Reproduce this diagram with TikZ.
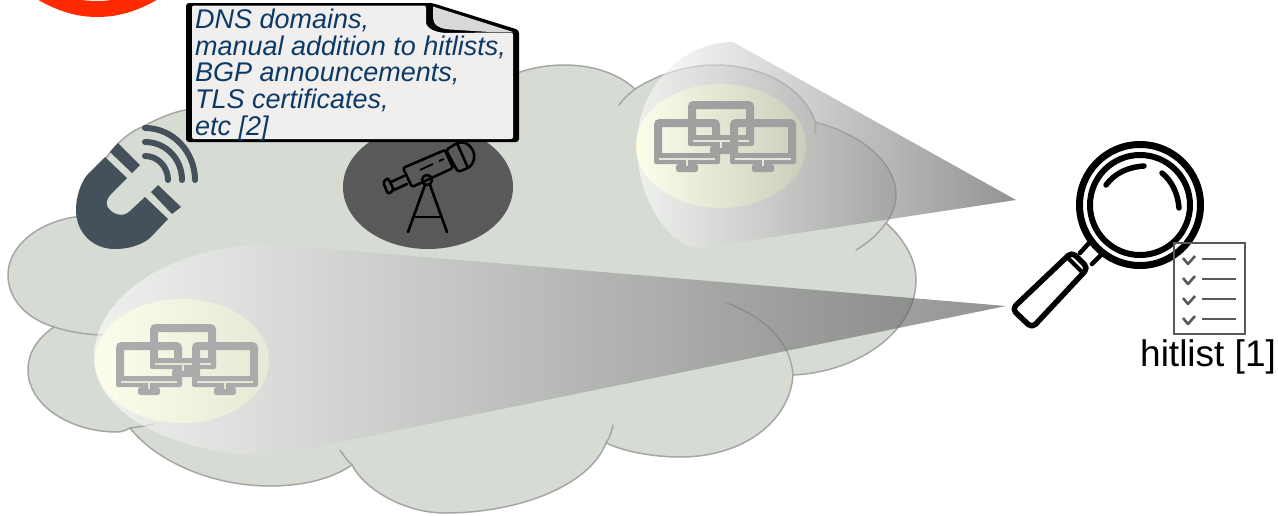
\documentclass[tikz,border=0pt]{standalone}
\usepackage{fontspec}
\setmainfont{Liberation Sans}
\definecolor{cloudfill}{HTML}{D6DBD4}
\definecolor{cloudline}{HTML}{A6A6A4}
\definecolor{glow}{HTML}{FBFBCC}
\definecolor{screena}{HTML}{ABABAB}
\definecolor{screenb}{HTML}{A0A0A0}
\definecolor{stripe}{HTML}{E6E6D8}
\definecolor{magnetc}{HTML}{44505A}
\definecolor{scope}{HTML}{595959}
\definecolor{paper}{HTML}{F1EEEE}
\definecolor{foldc}{HTML}{D9D9D9}
\definecolor{doctext}{HTML}{0B3A66}
\definecolor{redc}{HTML}{FF2A00}
\definecolor{listc}{HTML}{595959}
\definecolor{conedark}{HTML}{505050}
\tikzset{
  lobe/.style={draw=cloudline,line width=1.5pt,line cap=round},
  cone/.style={left color=white,right color=conedark,opacity=0.62},
  halo/.style={fill=glow},
  scopeline/.style={draw=black,line width=2.6pt,line cap=round,line join=round},
  lensline/.style={draw=black,line width=5.5pt,line cap=round,line join=round},
  wave/.style={draw=magnetc,line width=6pt,line cap=round},
  tick/.style={draw=listc,line width=2.6pt,line join=round},
  monitor/.pic={
    \fill[pic actions,rounded corners=2pt] (0,34) rectangle (66,45);
    \draw[pic actions,line width=8pt,rounded corners=2pt] (4,4) rectangle (62,40);
    \fill[pic actions,rounded corners=2.5pt] (22,45) rectangle (44,53);
    \draw[stripe,line width=1.2pt] (5,40) -- (61,40);
    \draw[stripe,line width=2.6pt] (33,40) -- (33,47);
  }
}
\begin{document}
\begin{tikzpicture}[x=1pt,y=-1pt]
\useasboundingbox (0,0) rectangle (1278,515);
\clip (0,0) rectangle (1278,515);
% red ring, cut by the page edge
\fill[redc] (35,-2) .. controls (55,10) and (75,17) .. (97,17) .. controls (120,17) and (140,10) .. (160,-2) -- (118,-2) .. controls (110,2) and (85,2) .. (73,-2) -- cycle;
% cloud
\path[fill=cloudfill,lobe] (54,327) .. controls (25,318) and (8,298) .. (8,275)
  .. controls (8,245) and (40,222) .. (75,217)
  -- (88,215) .. controls (85,185) and (110,140) .. (142,127)
  .. controls (155,120) and (170,113) .. (185,110)
  .. controls (280,90) and (400,80) .. (520,72)
  .. controls (535,67) and (550,65) .. (565,65)
  .. controls (595,65) and (620,75) .. (635,89)
  .. controls (660,73) and (690,65) .. (715,65)
  .. controls (765,65) and (805,90) .. (815,122)
  .. controls (865,135) and (896,165) .. (896,195)
  .. controls (896,205) and (892,215) .. (886,223)
  .. controls (905,240) and (916,260) .. (916,280)
  .. controls (916,330) and (860,372) .. (793,375)
  .. controls (790,420) and (745,457) .. (680,457)
  .. controls (655,457) and (625,452) .. (606,443)
  .. controls (590,485) and (520,513) .. (445,513)
  .. controls (405,513) and (365,490) .. (352,465)
  .. controls (330,480) and (300,486) .. (270,486)
  .. controls (210,486) and (155,460) .. (130,428)
  .. controls (125,431) and (120,432) .. (117,432)
  .. controls (70,432) and (28,405) .. (28,370)
  .. controls (28,352) and (38,338) .. (54,327) -- cycle;
\draw[lobe] (54,327) .. controls (70,332) and (88,335) .. (106,335);
\draw[lobe] (130,428) .. controls (138,427) and (146,426) .. (154,424);
\draw[lobe] (352,465) .. controls (347,460) and (343,455) .. (340,450);
\draw[lobe] (606,443) .. controls (610,437) and (612,431) .. (613,425);
\draw[lobe] (793,375) .. controls (790,340) and (765,318) .. (725,302);
\draw[lobe] (886,223) .. controls (877,235) and (868,243) .. (856,250);
\draw[lobe] (815,122) .. controls (816,126) and (816,130) .. (815,133);
\draw[lobe] (619,105) .. controls (623,99) and (629,94) .. (635,89);
% halos
\fill[halo] (182,361) circle [x radius=87pt,y radius=62pt];
\fill[halo] (721,146) circle [x radius=85pt,y radius=62pt];
% view cones
\path[cone] (1006,306) -- (270,244) .. controls (165,246) and (94,300) .. (94,357)
  .. controls (94,420) and (190,458) .. (277,455) -- cycle;
\path[cone] (1016,200) -- (733,42) .. controls (680,42) and (637,90) .. (637,145)
  .. controls (637,200) and (670,248) .. (700,248) -- cycle;
% hosts
\pic[screena] at (116,342) {monitor};
\pic[screena] at (150,324) {monitor};
\pic[screena] at (192,342) {monitor};
\pic[screenb] at (654,119) {monitor};
\pic[screenb] at (688,101) {monitor};
\pic[screenb] at (730,119) {monitor};
% magnet
\fill[magnetc] (105,157) -- (127,178) -- (113,192) .. controls (104,201) and (106,206) .. (110,210)
  .. controls (114,214) and (123,218) .. (130,211) -- (145,197) -- (168,219) -- (150,238)
  .. controls (140,246) and (127,249) .. (115,249) .. controls (92,249) and (76,232) .. (76,210)
  .. controls (76,198) and (80,184) .. (87,175) -- cycle;
\fill[magnetc] (118,143) -- (140,165) -- (132,173) -- (110,152) -- cycle;
\fill[magnetc] (158,185) -- (181,207) -- (172,214) -- (151,192) -- cycle;
\draw[wave] (145,156) .. controls (158,156) and (168,167) .. (168,180);
\draw[wave] (145,142) .. controls (166,142) and (182,159) .. (182,180);
\draw[wave] (145,128) .. controls (173,128) and (195,152) .. (195,180);
% telescope
\fill[scope] (428,187) circle [x radius=85pt,y radius=62pt];
\draw[scopeline,rounded corners=2pt] (403,168) -- (445,150) -- (453,168) -- (412,187) -- cycle;
\draw[scopeline,rounded corners=2pt] (446,150) -- (457,143) -- (468,168) -- (458,172) -- cycle;
\draw[scopeline] (457,143) .. controls (470,138) and (482,158) .. (468,168);
\draw[scopeline] (404,176) -- (391,182);
\draw[scopeline] (407,184) -- (394,190);
\draw[scopeline,rounded corners=2pt] (383,182) -- (388,178) -- (394,190) -- (388,194) -- cycle;
\draw[scopeline] (427,180) circle [radius=5pt];
\fill[black] (427,180) circle [radius=1.5pt];
\draw[scopeline] (425,185) -- (408,232);
\draw[scopeline] (430,185) -- (447,232);
\draw[scopeline] (414,217) -- (441,217);
\draw[draw=black,line width=1.8pt] (420,170) -- (433,164);
\draw[draw=black,line width=1.8pt] (439,161) -- (444,159);
% document
\fill[black,rounded corners=3pt] (186,3) -- (432,3) -- (519,30) -- (519,142) -- (186,142) -- cycle;
\fill[paper,rounded corners=2pt] (192,5.5) -- (426,5.5) -- (426,20) .. controls (426,28) and (435,33) .. (450,33) -- (490,32.6) -- (513,32.6) -- (513,139) -- (192,139) -- cycle;
\fill[foldc] (433,6.5) -- (433,18) .. controls (433,25) and (440,29) .. (450,29.5) -- (490,32) -- (513,32) -- cycle;
\node[anchor=north west,inner sep=0pt,align=left,text=doctext,font=\fontsize{27}{26.6}\selectfont\itshape] (doc) at (195,9) {DNS domains,\\manual addition to hitlists,\\BGP announcements,\\TLS certificates,\\etc [2]};
% magnifier
\draw[black,line width=7pt] (1140,205) circle [radius=60.5pt];
\draw[black,line width=6pt] (1140,205) circle [radius=50pt];
\draw[lensline] (1106,185) .. controls (1115,173) and (1128,167) .. (1144,166);
\draw[lensline] (1162,173) .. controls (1172,181) and (1178,194) .. (1179,208);
\draw[lensline,line width=4.5pt] (1089,243) -- (1080,253);
\draw[lensline,line width=4.5pt] (1102,254) -- (1092,264);
\draw[lensline,rounded corners=5pt] (1072,252) -- (1088,268) -- (1032,328) -- (1012,309) -- cycle;
\draw[lensline,line width=4pt] (1068,258) -- (1082,272);
% hit list
\draw[listc,line width=2.5pt] (1174,243) rectangle (1245,334);
\foreach \rowy in {258,278,298,318}{
  \draw[tick] (1183,\rowy) -- (1188,\rowy+6) -- (1195,\rowy-2);
  \draw[tick] (1202,\rowy+1) -- (1236,\rowy+1);
}
\node[anchor=base west,inner sep=0pt,font=\fontsize{37}{40}\selectfont] (hitlist) at (1140,366) {hitlist [1]};
\end{tikzpicture}
\end{document}
